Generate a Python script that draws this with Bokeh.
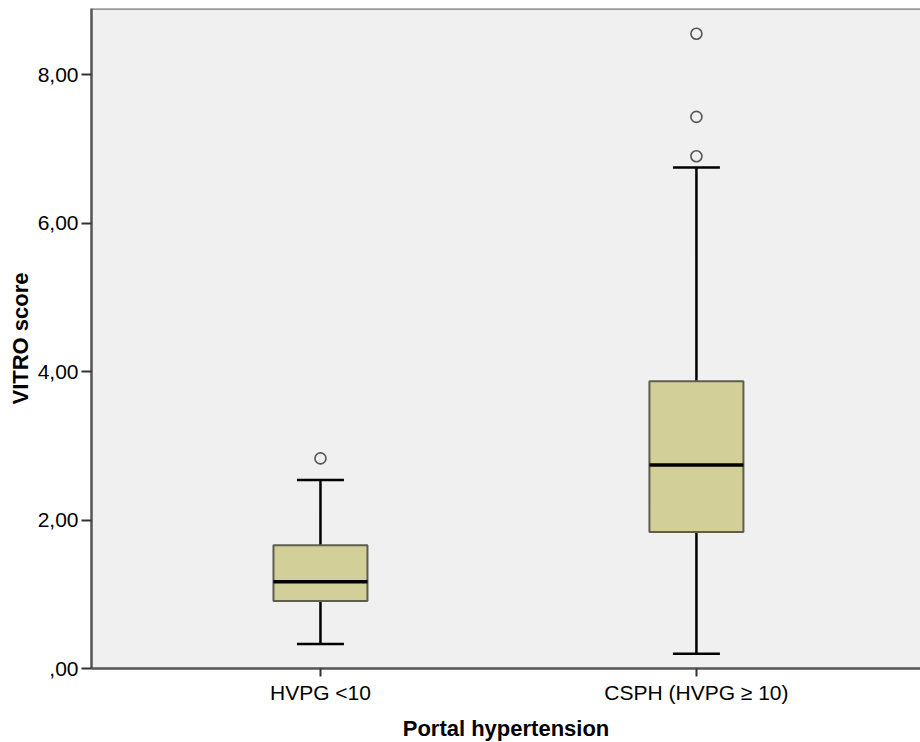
from bokeh.plotting import figure
from bokeh.models import Range1d, FixedTicker, Span
from bokeh.embed import file_html
from bokeh.resources import INLINE

# Box-plot summaries of the VITRO score per portal-hypertension group
groups = ["HVPG <10", "CSPH (HVPG \u2265 10)"]
whisker_low = [0.33, 0.20]
q1 = [0.91, 1.84]
median = [1.17, 2.74]
q3 = [1.66, 3.87]
whisker_high = [2.54, 6.75]

# Outliers: group index and value
outlier_group = [0, 1, 1, 1]
outlier_value = [2.83, 6.90, 7.43, 8.55]

y_ticks = [0, 2, 4, 6, 8]
y_tick_labels = [",00", "2,00", "4,00", "6,00", "8,00"]

xpos = [i + 1 for i in range(len(groups))]
box_w = 0.25
cap_half = 0.0625

p = figure(
    frame_width=829, frame_height=660,
    x_range=Range1d(0.391, 2.596), y_range=Range1d(0, 8.89),
    output_backend="svg", toolbar_location=None,
    min_border_left=91, min_border_right=0, min_border_top=8, min_border_bottom=74,
)
p.background_fill_color = "#F0F0F0"
p.border_fill_color = "white"
p.outline_line_color = None
p.xgrid.visible = False
p.ygrid.visible = False

# whiskers
p.segment(x0=xpos, y0=q3, x1=xpos, y1=whisker_high, line_color="black", line_width=2.5)
p.segment(x0=xpos, y0=whisker_low, x1=xpos, y1=q1, line_color="black", line_width=2.5)
p.segment(x0=[x - cap_half for x in xpos], y0=whisker_high,
          x1=[x + cap_half for x in xpos], y1=whisker_high, line_color="black", line_width=2.5)
p.segment(x0=[x - cap_half for x in xpos], y0=whisker_low,
          x1=[x + cap_half for x in xpos], y1=whisker_low, line_color="black", line_width=2.5)

# boxes
p.vbar(x=xpos, width=box_w, bottom=q1, top=q3, fill_color="#D3CF98",
       line_color="#5E5E4E", line_width=2)
# medians
p.segment(x0=[x - box_w / 2 for x in xpos], y0=median,
          x1=[x + box_w / 2 for x in xpos], y1=median, line_color="black", line_width=3.5)

# outliers
p.scatter(x=[xpos[g] for g in outlier_group], y=outlier_value, marker="circle",
          size=11, fill_color="#F0F0F0", line_color="#555555", line_width=1.6)

# top frame line
p.add_layout(Span(location=8.89, dimension="width", line_color="#777777", line_width=2.5))

# axes
for ax in (p.xaxis[0], p.yaxis[0]):
    ax.axis_line_color = "#555555"
    ax.axis_line_width = 2.5
    ax.major_tick_line_color = "#333333"
    ax.major_tick_line_width = 2
    ax.major_tick_in = 0
    ax.minor_tick_line_color = None
    ax.major_label_text_font = "Liberation Sans"
    ax.major_label_text_font_size = "21px"
    ax.major_label_text_color = "black"
    ax.axis_label_text_font = "Liberation Sans"
    ax.axis_label_text_font_size = "22px"
    ax.axis_label_text_font_style = "bold"
    ax.axis_label_text_color = "black"

p.yaxis.ticker = FixedTicker(ticks=y_ticks)
p.yaxis.major_label_overrides = {t: s for t, s in zip(y_ticks, y_tick_labels)}
p.yaxis.major_tick_out = 10
p.yaxis.major_label_standoff = 3
p.yaxis.axis_label = "VITRO score"
p.yaxis.axis_label_standoff = 2

p.xaxis.ticker = FixedTicker(ticks=xpos)
p.xaxis.major_label_overrides = {x: g for x, g in zip(xpos, groups)}
p.xaxis.major_tick_out = 8
p.xaxis.major_label_standoff = 4
p.xaxis.axis_label = "Portal hypertension"
p.xaxis.axis_label_standoff = 9

open("out.html", "w").write(file_html(p, INLINE))
